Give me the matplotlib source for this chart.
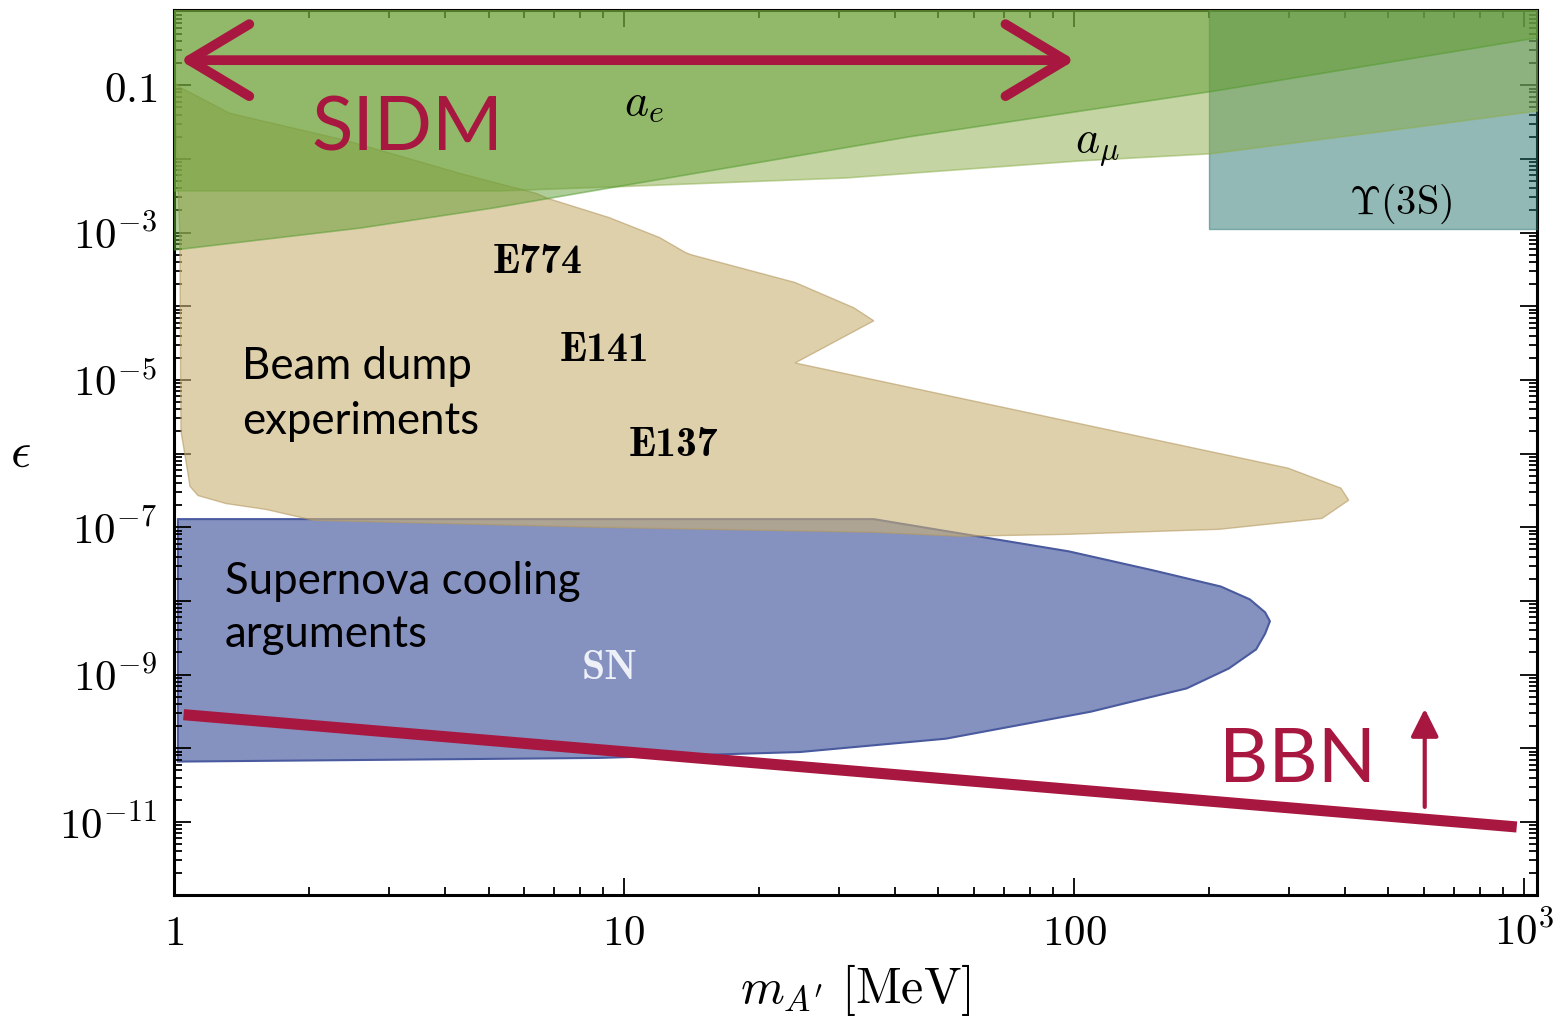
import matplotlib
matplotlib.use("Agg")
import matplotlib.pyplot as plt
from matplotlib.patches import ArrowStyle
from matplotlib.ticker import FixedLocator, FixedFormatter, LogLocator, NullFormatter

plt.rcParams["mathtext.fontset"] = "cm"

# Excluded regions in the (m_A' [MeV], epsilon) plane
# a_e : region above this curve
ae_mass = [1.0, 2.59, 5.11, 7.98, 42.8, 206.8, 1100]
ae_eps = [5.9e-4, 1.17e-3, 2.19e-3, 3.5e-3, 0.0202, 0.0855, 0.46]

# a_mu : region above this curve
amu_mass = [1.0, 5.3, 10.7, 31.1, 103, 200, 478, 1100]
amu_eps = [3.73e-3, 3.73e-3, 4.36e-3, 5.6e-3, 9.55e-3, 0.0119, 0.0237, 0.0465]

# Upsilon(3S) : box above this level for m > 200 MeV
ups_mass = [200, 1100]
ups_eps = [1.13e-3, 1.13e-3]

# Beam dump experiments (E774, E141, E137) outline
beam_mass = [1.0, 1.03, 1.33, 2.4, 4.32, 6.38, 6.78, 9.26, 12.0, 13.7, 14.1, 24.0, 32.4,
             35.9, 24.0, 299, 392, 408, 356, 211, 97.4, 55.8, 35.9, 8.84, 2.04, 1.6,
             1.305, 1.13, 1.085, 1.063, 1.036, 1.03]
beam_eps = [0.11, 0.094, 0.0416, 0.0179, 6.35e-3, 3.4e-3, 2.9e-3, 1.6e-3, 8.55e-4, 5.35e-4,
            5.0e-4, 2.1e-4, 9.55e-5, 6.35e-5, 1.7e-5, 6.35e-7, 3.4e-7, 2.33e-7, 1.32e-7,
            9.4e-8, 8.03e-8, 7.55e-8, 8.55e-8, 1.0e-7, 1.245e-7, 1.75e-7, 2.1e-7, 2.7e-7,
            3.6e-7, 7.9e-7, 2.02e-6, 1e-3]

# Supernova cooling outline
sn_mass = [1.02, 35.9, 63.1, 97.4, 150, 212, 246, 266, 272.6, 266, 254, 220.8, 178,
           134.5, 109, 51.9, 24.6, 8.8, 1.02]
sn_eps = [1.29e-7, 1.29e-7, 7.3e-8, 4.71e-8, 2.6e-8, 1.57e-8, 1.05e-8, 7.0e-9, 5.3e-9,
          3.6e-9, 2.2e-9, 1.21e-9, 6.5e-10, 4.3e-10, 3.14e-10, 1.35e-10, 8.9e-11, 7.4e-11,
          6.6e-11]

# BBN line and arrows
bbn_mass = [1.05, 964]
bbn_eps = [2.86e-10, 8.55e-12]
sidm_mass = [1.03, 100.5]
sidm_eps = 0.219
bbn_arrow_mass = 602
bbn_arrow_eps = [1.6e-11, 3.44e-10]

# Axes ticks
xtick_vals = [1, 10, 100, 1000]
xtick_labels = ["$1$", "$10$", "$100$", "$10^{3}$"]
ytick_vals = [1e-11, 1e-10, 1e-9, 1e-8, 1e-7, 1e-6, 1e-5, 1e-4, 1e-3, 1e-2, 1e-1]
ytick_labels = ["$10^{-11}$", "", "$10^{-9}$", "", "$10^{-7}$", "", "$10^{-5}$", "",
                "$10^{-3}$", "", "$0.1$"]

RED = "#a8173f"

fig = plt.figure(figsize=(15.61, 10.21), dpi=100)
ax = fig.add_axes([0.1115, 0.1234, 0.8732, 0.8668])
ax.set_xscale("log")
ax.set_yscale("log")

# Regions
ax.fill(sn_mass, sn_eps, fc="#8591bf", ec="#4a5a9e", lw=1.5, zorder=1)
ax.fill(beam_mass, beam_eps, fc="#cab176", ec="#b59a60", lw=1.0, alpha=0.6, zorder=2)
ax.fill_between(ups_mass, ups_eps, 3, fc="#27756f", ec="#27756f", lw=1.0, alpha=0.5, zorder=3)
ax.fill_between(amu_mass, amu_eps, 3, fc="#8bad49", ec="#8bad49", lw=1.2, alpha=0.5, zorder=4)
ax.fill_between(ae_mass, ae_eps, 3, fc="#619c32", ec="#4f9a2a", lw=1.2, alpha=0.5, zorder=5)

# BBN line
ax.plot(bbn_mass, bbn_eps, color=RED, lw=8, solid_capstyle="butt", zorder=6)

# Arrows
ax.annotate("", xy=(sidm_mass[0], sidm_eps), xytext=(sidm_mass[1], sidm_eps),
            arrowprops=dict(arrowstyle=ArrowStyle("<->", head_length=0.4, head_width=0.24),
                            mutation_scale=108, lw=7, color=RED, shrinkA=0, shrinkB=0),
            zorder=7)
ax.annotate("", xy=(bbn_arrow_mass, bbn_arrow_eps[1]), xytext=(bbn_arrow_mass, bbn_arrow_eps[0]),
            arrowprops=dict(arrowstyle="-|>", mutation_scale=42, lw=3, color=RED,
                            shrinkA=0, shrinkB=0),
            zorder=7)

# Labels on the plot
ax.text(3.31, 0.0131, "SIDM", color=RED, fontsize=55, family="Lato", ha="center", va="baseline", zorder=8)
ax.text(314.6, 3.5e-11, "BBN", color=RED, fontsize=55, family="Lato", ha="center", va="baseline", zorder=8)
ax.text(1.416, 1.03e-5, "Beam dump", fontsize=31.5, family="Lato", ha="left", va="baseline", zorder=8)
ax.text(1.416, 1.84e-6, "experiments", fontsize=31.5, family="Lato", ha="left", va="baseline", zorder=8)
ax.text(1.298, 1.26e-8, "Supernova cooling", fontsize=31.5, family="Lato", ha="left", va="baseline", zorder=8)
ax.text(1.298, 2.4e-9, "arguments", fontsize=31.5, family="Lato", ha="left", va="baseline", zorder=8)
ax.text(6.44, 2.86e-4, "E774", fontsize=30, family="cmb10", ha="center", va="baseline", zorder=8)
ax.text(9.03, 1.82e-5, "E141", fontsize=30, family="cmb10", ha="center", va="baseline", zorder=8)
ax.text(12.9, 9.25e-7, "E137", fontsize=30, family="cmb10", ha="center", va="baseline", zorder=8)
ax.text(9.3, 8.83e-10, "SN", fontsize=30, family="cmb10", color="#eef0f8", ha="center", va="baseline", zorder=8)
ax.text(11.1, 0.039, r"$a_e$", fontsize=33, ha="center", va="baseline", zorder=8)
ax.text(113, 0.01225, r"$a_\mu$", fontsize=33, ha="center", va="baseline", zorder=8)
ax.text(533, 1.82e-3, r"$\Upsilon(3\mathrm{S})$", fontsize=29, ha="center", va="baseline", zorder=8)

# Axes formatting
ax.set_xlim(1, 1070)
ax.set_ylim(1.02e-12, 1.05)
ax.xaxis.set_major_locator(FixedLocator(xtick_vals))
ax.xaxis.set_major_formatter(FixedFormatter(xtick_labels))
ax.xaxis.set_minor_locator(LogLocator(base=10, subs=range(2, 10), numticks=20))
ax.xaxis.set_minor_formatter(NullFormatter())
ax.yaxis.set_major_locator(FixedLocator(ytick_vals))
ax.yaxis.set_major_formatter(FixedFormatter(ytick_labels))
ax.yaxis.set_minor_locator(LogLocator(base=10, subs=range(2, 10), numticks=30))
ax.yaxis.set_minor_formatter(NullFormatter())

ax.tick_params(which="both", direction="in", top=True, right=True, width=1.3)
ax.tick_params(which="major", length=12, labelsize=31, pad=12)
ax.tick_params(which="minor", length=6)
for s in ax.spines.values():
    s.set_linewidth(2.2)

ax.set_xlabel(r"$m_{A'}\ [\mathrm{MeV}]$", fontsize=36, va="center")
ax.xaxis.set_label_coords(0.5, -0.107)
ax.set_ylabel(r"$\epsilon$", fontsize=36, rotation=0, ha="center", va="center")
ax.yaxis.set_label_coords(-0.113, 0.5)

fig.savefig("out.png", dpi=100)
